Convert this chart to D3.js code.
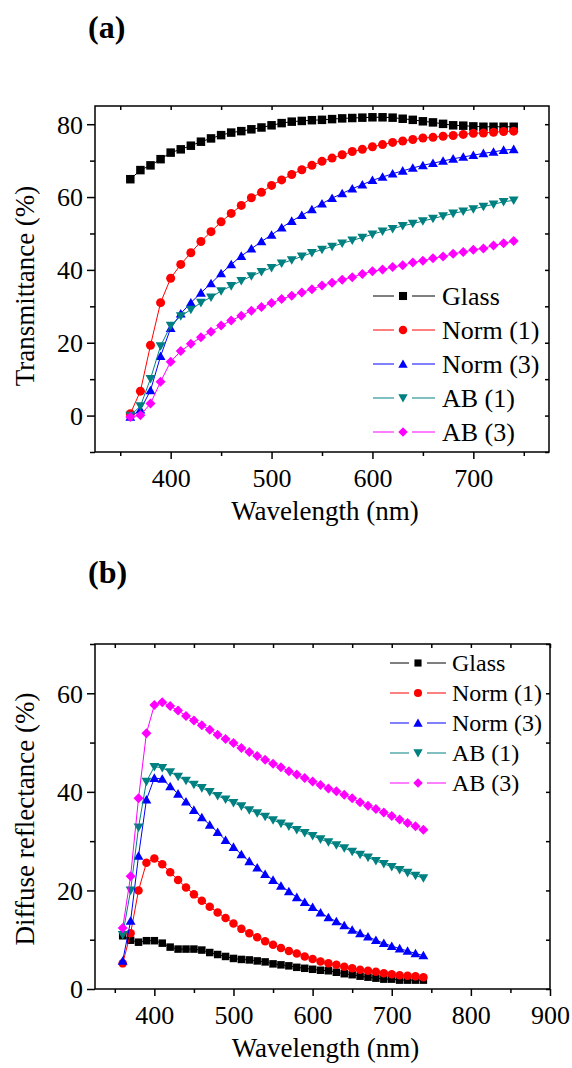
<!DOCTYPE html>
<html>
<head>
<meta charset="utf-8">
<script src="https://cdn.jsdelivr.net/npm/d3@7"></script>
<style>
  body { margin: 0; background: #fff; }
  svg text { font-family: "Liberation Serif", "Times New Roman", "DejaVu Serif", serif !important; fill: #000; }
</style>
</head>
<body>
<svg id="chart" width="572" height="1068"></svg>
<script>
// wavelengths (nm)
const wavelength = [360, 370, 380, 390, 400, 410, 420, 430, 440, 450, 460, 470, 480, 490, 500,
  510, 520, 530, 540, 550, 560, 570, 580, 590, 600, 610, 620, 630, 640, 650,
  660, 670, 680, 690, 700, 710, 720, 730, 740];

const seriesNames = ["Glass", "Norm (1)", "Norm (3)", "AB (1)", "AB (3)"];
const seriesColors = ["#000000", "#ff0000", "#0000ff", "#008080", "#ff00ff"];
const seriesShapes = ["square", "circle", "triangle", "triangleDown", "diamond"];

// (a) transmittance (%)
const transGlass = [64.9, 67.4, 68.7, 70.4, 72.2, 73.1, 74.1, 75.2, 76.1, 77.0, 77.7, 78.1, 78.6, 79.1, 79.7,
  80.3, 80.7, 80.9, 81.1, 81.2, 81.4, 81.6, 81.7, 81.8, 81.9, 81.9, 81.8, 81.5, 81.2, 80.8,
  80.5, 80.1, 79.7, 79.6, 79.4, 79.3, 79.3, 79.3, 79.3];
const transNorm1 = [0.5, 6.7, 19.3, 31.0, 37.7, 41.5, 44.7, 47.8, 50.5, 53.2, 55.5, 57.7, 59.8, 61.3, 63.2,
  64.7, 66.2, 67.5, 68.7, 69.8, 70.7, 71.6, 72.5, 73.1, 73.8, 74.4, 75.0, 75.4, 75.8, 76.2,
  76.4, 76.7, 76.9, 77.2, 77.5, 77.6, 77.8, 78.0, 78.1];
const transNorm3 = [-0.4, 1.6, 6.9, 16.3, 24.0, 28.0, 31.0, 33.7, 36.3, 39.0, 41.5, 43.8, 45.8, 47.8, 49.6,
  51.6, 53.4, 55.0, 56.6, 58.2, 59.7, 61.0, 62.3, 63.4, 64.6, 65.5, 66.4, 67.2, 68.0, 68.7,
  69.3, 69.9, 70.5, 71.0, 71.5, 72.0, 72.4, 72.9, 73.1];
const transAB1 = [0.0, 2.6, 10.1, 19.1, 24.7, 27.3, 29.1, 31.0, 32.5, 34.2, 35.6, 37.0, 38.3, 39.5, 40.6,
  41.8, 42.7, 43.7, 44.7, 45.6, 46.4, 47.3, 48.1, 48.9, 49.8, 50.6, 51.3, 52.1, 52.7, 53.4,
  54.1, 54.8, 55.5, 56.1, 56.7, 57.4, 58.0, 58.7, 59.1];
const transAB3 = [-0.4, 0.1, 3.3, 9.3, 14.8, 17.7, 19.7, 21.5, 23.0, 24.7, 26.1, 27.4, 28.8, 29.8, 30.9,
  32.0, 32.9, 33.8, 34.7, 35.7, 36.5, 37.3, 38.0, 38.9, 39.6, 40.1, 40.8, 41.3, 42.0, 42.5,
  43.2, 43.7, 44.4, 44.9, 45.5, 45.9, 46.7, 47.3, 47.9];

// (b) diffuse reflectance (%)
const reflGlass = [10.8, 9.9, 9.5, 9.8, 9.8, 9.3, 8.5, 8.1, 8.1, 8.1, 7.9, 7.4, 7.0, 6.6, 6.2,
  6.0, 5.9, 5.7, 5.5, 5.1, 4.9, 4.7, 4.4, 4.2, 4.0, 3.8, 3.7, 3.4, 3.1, 2.9,
  2.6, 2.4, 2.2, 2.0, 2.0, 1.8, 1.8, 1.8, 1.8];
const reflNorm1 = [5.2, 11.3, 20.0, 25.6, 26.5, 25.3, 23.7, 22.1, 20.6, 19.2, 17.9, 16.7, 15.5, 14.4, 13.3,
  12.2, 11.3, 10.5, 9.7, 9.0, 8.3, 7.7, 7.2, 6.6, 6.1, 5.6, 5.2, 4.9, 4.5, 4.2,
  3.9, 3.7, 3.5, 3.2, 3.0, 2.8, 2.7, 2.6, 2.4];
const reflNorm3 = [5.7, 13.8, 27.0, 38.4, 42.8, 42.6, 41.1, 39.6, 38.0, 36.3, 34.8, 33.3, 31.8, 30.2, 28.8,
  27.3, 25.9, 24.6, 23.3, 22.1, 20.9, 19.8, 18.6, 17.6, 16.6, 15.5, 14.5, 13.7, 12.9, 12.0,
  11.3, 10.6, 9.9, 9.3, 8.7, 8.2, 7.7, 7.2, 6.8];
const reflAB1 = [11.0, 20.0, 32.8, 42.1, 45.1, 44.9, 44.0, 43.1, 42.3, 41.5, 40.8, 40.0, 39.2, 38.5, 37.8,
  37.1, 36.3, 35.7, 35.0, 34.3, 33.6, 33.0, 32.3, 31.7, 31.1, 30.4, 29.8, 29.2, 28.6, 27.9,
  27.3, 26.7, 26.0, 25.4, 24.8, 24.2, 23.6, 23.0, 22.5];
const reflAB3 = [12.4, 22.9, 38.7, 51.9, 57.6, 58.2, 57.4, 56.5, 55.4, 54.5, 53.5, 52.6, 51.6, 50.7, 49.9,
  48.9, 48.1, 47.3, 46.5, 45.7, 45.0, 44.2, 43.5, 42.8, 42.1, 41.4, 40.7, 40.1, 39.4, 38.7,
  37.9, 37.2, 36.5, 35.8, 35.1, 34.4, 33.7, 33.0, 32.3];

// tick values
const xTicksA = [400, 500, 600, 700];
const xMinorA = [350, 450, 550, 650, 750];
const yTicksA = [0, 20, 40, 60, 80];
const yMinorA = [-10, 10, 30, 50, 70];
const xTicksB = [400, 500, 600, 700, 800, 900];
const xMinorB = [350, 450, 550, 650, 750, 850];
const yTicksB = [0, 20, 40, 60];
const yMinorB = [10, 30, 50, 70];

const FONT = '"Liberation Serif", "Times New Roman", "DejaVu Serif", serif';
const svg = d3.select("#chart");

function markerPath(shape, s) {
  const h = s / 2;
  if (shape === "square") return `M${-h},${-h}H${h}V${h}H${-h}Z`;
  if (shape === "circle") return d3.symbol(d3.symbolCircle, Math.PI * h * h)();
  if (shape === "triangle") return `M0,${-h * 1.05}L${h * 1.1},${h * 0.85}L${-h * 1.1},${h * 0.85}Z`;
  if (shape === "triangleDown") return `M0,${h * 1.05}L${h * 1.1},${-h * 0.85}L${-h * 1.1},${-h * 0.85}Z`;
  if (shape === "diamond") return `M0,${-h * 1.25}L${h * 1.25},0L0,${h * 1.25}L${-h * 1.25},0Z`;
}

function addText(parent) {
  return parent.append("text").style("font-family", FONT).attr("fill", "#000");
}

function drawPanel(cfg) {
  const g = svg.append("g");
  const x = d3.scaleLinear().domain(cfg.xDomain).range([cfg.left, cfg.right]);
  const y = d3.scaleLinear().domain(cfg.yDomain).range([cfg.bottom, cfg.top]);

  // minor + major ticks, outward on left/bottom, inward on top/right
  const axes = [
    [d3.axisBottom(x).tickValues(cfg.xMinor).tickSize(4), `translate(0,${cfg.bottom})`],
    [d3.axisBottom(x).tickValues(cfg.xTicks).tickSize(7), `translate(0,${cfg.bottom})`, "x"],
    [d3.axisLeft(y).tickValues(cfg.yMinor).tickSize(5), `translate(${cfg.left},0)`],
    [d3.axisLeft(y).tickValues(cfg.yTicks).tickSize(8), `translate(${cfg.left},0)`, "y"],
    [d3.axisBottom(x).tickValues(cfg.xTicks.concat(cfg.xMinor)).tickSize(4), `translate(0,${cfg.top})`],
    [d3.axisLeft(y).tickValues(cfg.yTicks.concat(cfg.yMinor)).tickSize(4), `translate(${cfg.right},0)`]
  ];
  axes.forEach(([ax, tr, lab]) => {
    const a = g.append("g").attr("transform", tr).call(ax);
    a.attr("font-family", FONT).attr("font-size", 26);
    a.select(".domain").remove();
    a.selectAll("line").attr("stroke", "#000").attr("stroke-width", 1.5);
    const t = a.selectAll("text").style("font-family", FONT).attr("fill", "#000");
    if (!lab) t.remove();
    else if (lab === "x") {
      t.attr("y", 35).attr("dy", null);
    } else {
      t.attr("x", -12).attr("dy", "0.34em");
    }
  });

  g.append("rect")
    .attr("x", cfg.left).attr("y", cfg.top)
    .attr("width", cfg.right - cfg.left).attr("height", cfg.bottom - cfg.top)
    .attr("fill", "none").attr("stroke", "#000").attr("stroke-width", 1.5);

  const line = d3.line().x((d, i) => x(wavelength[i])).y(d => y(d));
  cfg.series.forEach((vals, k) => {
    g.append("path").datum(vals)
      .attr("d", line)
      .attr("fill", "none")
      .attr("stroke", seriesColors[k])
      .attr("stroke-width", 1);
    g.append("g").selectAll("path").data(vals).join("path")
      .attr("transform", (d, i) => `translate(${x(wavelength[i])},${y(d)})`)
      .attr("d", markerPath(seriesShapes[k], cfg.msize[k]))
      .attr("fill", seriesColors[k]);
  });

  // legend
  const lg = g.append("g");
  const L = cfg.legend;
  seriesNames.forEach((name, k) => {
    const ly = L.y + k * L.step;
    lg.append("line").attr("x1", L.x1).attr("x2", L.m - L.gap).attr("y1", ly).attr("y2", ly)
      .attr("stroke", seriesColors[k]).attr("stroke-width", 1);
    lg.append("line").attr("x1", L.m + L.gap).attr("x2", L.x2).attr("y1", ly).attr("y2", ly)
      .attr("stroke", seriesColors[k]).attr("stroke-width", 1);
    lg.append("path").attr("transform", `translate(${L.m},${ly})`)
      .attr("d", markerPath(seriesShapes[k], cfg.msize[k] * 0.95))
      .attr("fill", seriesColors[k]);
    addText(lg).attr("x", L.tx).attr("y", ly).attr("dy", "0.34em")
      .attr("font-size", L.fs).text(name);
  });

  // axis titles
  addText(g)
    .attr("x", (cfg.left + cfg.right) / 2 + 3).attr("y", cfg.bottom + 68)
    .attr("text-anchor", "middle").attr("font-size", 27)
    .text("Wavelength (nm)");
  addText(g)
    .attr("transform", `translate(34,${cfg.yLabelY}) rotate(-90)`)
    .attr("text-anchor", "middle").attr("font-size", 27)
    .text(cfg.yLabel);
  addText(g)
    .attr("x", 88).attr("y", cfg.titleY)
    .attr("font-size", 32).attr("font-weight", "bold")
    .text(cfg.title);
}

drawPanel({
  title: "(a)", titleY: 38,
  left: 95, right: 549, top: 106, bottom: 452,
  xDomain: [325, 775], yDomain: [-10, 85],
  xTicks: xTicksA, xMinor: xMinorA, yTicks: yTicksA, yMinor: yMinorA,
  series: [transGlass, transNorm1, transNorm3, transAB1, transAB3],
  msize: [8.5, 9, 9, 9, 8],
  yLabel: "Transmittance (%)", yLabelY: 286,
  legend: { y: 296, step: 34, x1: 373, x2: 435, m: 403, gap: 9, tx: 442, fs: 26 }
});

drawPanel({
  title: "(b)", titleY: 583,
  left: 95, right: 550, top: 644, bottom: 989,
  xDomain: [325, 900], yDomain: [0, 70],
  xTicks: xTicksB, xMinor: xMinorB, yTicks: yTicksB, yMinor: yMinorB,
  series: [reflGlass, reflNorm1, reflNorm3, reflAB1, reflAB3],
  msize: [7.5, 8.5, 9, 9, 8],
  yLabel: "Diffuse reflectance (%)", yLabelY: 819,
  legend: { y: 663, step: 30, x1: 390, x2: 446, m: 418, gap: 9, tx: 452, fs: 24 }
});
</script>
</body>
</html>
